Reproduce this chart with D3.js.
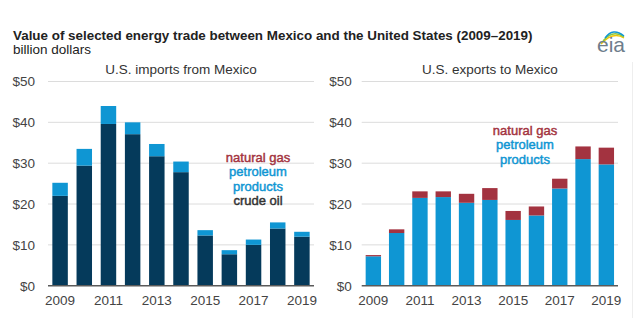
<!DOCTYPE html>
<html>
<head>
<meta charset="utf-8">
<script src="https://cdn.jsdelivr.net/npm/d3@7"></script>
<style>
body { margin: 0; background: #fff; }
text { font-family: "Liberation Sans", Arial, sans-serif; }
</style>
</head>
<body>
<script>
var years = [2009, 2010, 2011, 2012, 2013, 2014, 2015, 2016, 2017, 2018, 2019];
var yearTicks = [2009, 2011, 2013, 2015, 2017, 2019];
var valueTicks = [0, 10, 20, 30, 40, 50];

// billion dollars
var importsCrude    = [22.0, 29.4, 39.6, 37.1, 31.7, 27.8, 12.3, 7.7, 10.0, 14.0, 12.0];
var importsProducts = [3.2, 4.1, 4.4, 2.9, 3.0, 2.6, 1.3, 1.0, 1.3, 1.5, 1.2];
var exportsProducts = [7.2, 12.9, 21.5, 21.7, 20.3, 21.0, 16.1, 17.2, 23.8, 31.0, 29.7];
var exportsGas      = [0.3, 0.9, 1.6, 1.4, 2.2, 2.9, 2.2, 2.2, 2.4, 3.1, 4.1];

var colors = {crude: "#053a5b", products: "#0f96d3", gas: "#a33340"};

var width = 640, height = 327;
var svg = d3.select("body").append("svg")
  .attr("width", width)
  .attr("height", height);

var yScale = d3.scaleLinear().domain([0, 50]).range([285.7, 81.5]);

// header
svg.append("text")
  .attr("x", 13).attr("y", 40)
  .attr("font-size", 13.4).attr("font-weight", "bold").attr("fill", "#222")
  .text("Value of selected energy trade between Mexico and the United States (2009\u20132019)");
svg.append("text")
  .attr("x", 13).attr("y", 54)
  .attr("font-size", 13.5).attr("fill", "#222")
  .text("billion dollars");

// eia logo
var logo = svg.append("g").attr("transform", "translate(597,32)");
var arcColors = ["#f2c500", "#8cc63f", "#0f96d3"];
arcColors.forEach(function(c, i) {
  logo.append("path")
    .attr("d", "M" + (4 + i * 2) + "," + (12 - i * 3) + " Q" + (16) + "," + (-1 - i * 2) + " " + (27) + "," + (6 - i))
    .attr("fill", "none").attr("stroke", c).attr("stroke-width", 1.4);
});
logo.append("text")
  .attr("x", 0).attr("y", 20)
  .attr("font-family", "Liberation Serif, serif")
  .attr("font-size", 21).attr("fill", "#6e7d8c")
  .text("eia");

function drawPanel(cfg) {
  var x = d3.scaleBand().domain(years).range([cfg.x0, cfg.x1])
    .paddingInner(cfg.pi).paddingOuter(cfg.po);
  var g = svg.append("g");

  // gridlines
  g.append("g").selectAll("line")
    .data(valueTicks.slice(1))
    .enter().append("line")
    .attr("x1", cfg.x0).attr("x2", cfg.x1)
    .attr("y1", function(d) { return yScale(d); })
    .attr("y2", function(d) { return yScale(d); })
    .attr("stroke", "#dcdcdc").attr("stroke-width", 1);

  // stacked bars
  var table = years.map(function(yr, i) {
    var row = {year: yr};
    cfg.keys.forEach(function(k) { row[k] = cfg.series[k][i]; });
    return row;
  });
  var stacked = d3.stack().keys(cfg.keys)(table);
  g.selectAll("g.layer")
    .data(stacked)
    .enter().append("g")
    .attr("class", "layer")
    .attr("fill", function(d) { return colors[d.key]; })
    .selectAll("rect")
    .data(function(d) { return d; })
    .enter().append("rect")
    .attr("x", function(d) { return x(d.data.year); })
    .attr("width", x.bandwidth())
    .attr("y", function(d) { return yScale(d[1]); })
    .attr("height", function(d) { return yScale(d[0]) - yScale(d[1]); });

  // baseline
  g.append("line")
    .attr("x1", cfg.x0).attr("x2", cfg.x1)
    .attr("y1", yScale(0)).attr("y2", yScale(0))
    .attr("stroke", "#5a5a5a").attr("stroke-width", 1.5);

  // axes
  var yAxis = d3.axisLeft(yScale).tickValues(valueTicks)
    .tickSize(0).tickPadding(cfg.yPad)
    .tickFormat(function(d) { return "$" + d; });
  var yg = g.append("g").attr("transform", "translate(" + cfg.x0 + ",0)").call(yAxis);
  yg.select(".domain").remove();
  yg.selectAll("text").attr("font-size", 13.5).attr("fill", "#444")
    .attr("font-family", "Liberation Sans, Arial, sans-serif");

  var xAxis = d3.axisBottom(x).tickValues(yearTicks).tickSize(0).tickPadding(10);
  var xg = g.append("g").attr("transform", "translate(0," + yScale(0) + ")").call(xAxis);
  xg.select(".domain").remove();
  xg.selectAll("text").attr("font-size", 13.5).attr("fill", "#444")
    .attr("font-family", "Liberation Sans, Arial, sans-serif");

  // panel title
  g.append("text")
    .attr("x", (cfg.x0 + cfg.x1) / 2).attr("y", 74)
    .attr("text-anchor", "middle")
    .attr("font-size", 13.5).attr("fill", "#333")
    .text(cfg.title);

  // inline legend
  g.selectAll("text.legend")
    .data(cfg.legend)
    .enter().append("text")
    .attr("class", "legend")
    .attr("x", cfg.legendX)
    .attr("y", function(d, i) { return cfg.legendY + i * 14.5; })
    .attr("text-anchor", "middle")
    .attr("font-size", 13)
    .attr("fill", function(d) { return d.color; })
    .attr("stroke", function(d) { return d.color; })
    .attr("stroke-width", 0.45)
    .text(function(d) { return d.label; });
}

drawPanel({
  x0: 48, x1: 314, pi: 0.36, po: 0.18, yPad: 13,
  title: "U.S. imports from Mexico",
  keys: ["crude", "products"],
  series: {crude: importsCrude, products: importsProducts},
  legendX: 258, legendY: 161.5,
  legend: [
    {label: "natural gas", color: colors.gas},
    {label: "petroleum", color: colors.products},
    {label: "products", color: colors.products},
    {label: "crude oil", color: "#333"}
  ]
});

drawPanel({
  x0: 361.7, x1: 618, pi: 0.34, po: 0.17, yPad: 10,
  title: "U.S. exports to Mexico",
  keys: ["products", "gas"],
  series: {products: exportsProducts, gas: exportsGas},
  legendX: 525, legendY: 134.5,
  legend: [
    {label: "natural gas", color: colors.gas},
    {label: "petroleum", color: colors.products},
    {label: "products", color: colors.products}
  ]
});

// faint right edge of the graphic
svg.append("line")
  .attr("x1", 632.5).attr("x2", 632.5).attr("y1", 62).attr("y2", 318)
  .attr("stroke", "#eeeeee");
</script>
</body>
</html>
